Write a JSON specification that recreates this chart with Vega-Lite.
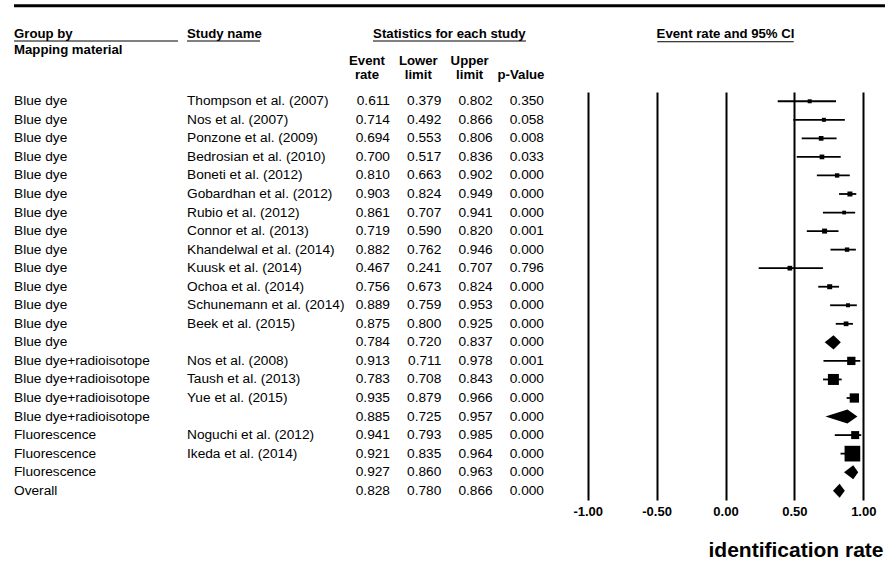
{
  "$schema": "https://vega.github.io/schema/vega-lite/v6.json",
  "width": 885,
  "height": 408,
  "autosize": {"type": "none"},
  "padding": {"left": 0, "top": 92, "right": 0, "bottom": 62},
  "background": "white",
  "config": {
    "view": {"stroke": null},
    "text": {"font": "Liberation Sans", "fontSize": 13.7, "color": "black", "baseline": "middle"},
    "rule": {"color": "black"},
    "locale": {"number": {"decimal": ".", "thousands": ",", "grouping": [3], "currency": ["$", ""], "minus": "-"}}
  },
  "datasets": {
    "rows": [
      {"row": 1, "group": "Blue dye", "study": "Thompson et al. (2007)", "rate": 0.611, "lower": 0.379, "upper": 0.802, "p": 0.350, "weight": 16, "kind": "study"},
      {"row": 2, "group": "Blue dye", "study": "Nos et al. (2007)", "rate": 0.714, "lower": 0.492, "upper": 0.866, "p": 0.058, "weight": 16, "kind": "study"},
      {"row": 3, "group": "Blue dye", "study": "Ponzone et al. (2009)", "rate": 0.694, "lower": 0.553, "upper": 0.806, "p": 0.008, "weight": 22, "kind": "study"},
      {"row": 4, "group": "Blue dye", "study": "Bedrosian et al. (2010)", "rate": 0.700, "lower": 0.517, "upper": 0.836, "p": 0.033, "weight": 22, "kind": "study"},
      {"row": 5, "group": "Blue dye", "study": "Boneti et al. (2012)", "rate": 0.810, "lower": 0.663, "upper": 0.902, "p": 0.000, "weight": 19, "kind": "study"},
      {"row": 6, "group": "Blue dye", "study": "Gobardhan et al. (2012)", "rate": 0.903, "lower": 0.824, "upper": 0.949, "p": 0.000, "weight": 25, "kind": "study"},
      {"row": 7, "group": "Blue dye", "study": "Rubio et al. (2012)", "rate": 0.861, "lower": 0.707, "upper": 0.941, "p": 0.000, "weight": 14, "kind": "study"},
      {"row": 8, "group": "Blue dye", "study": "Connor et al. (2013)", "rate": 0.719, "lower": 0.590, "upper": 0.820, "p": 0.001, "weight": 25, "kind": "study"},
      {"row": 9, "group": "Blue dye", "study": "Khandelwal et al. (2014)", "rate": 0.882, "lower": 0.762, "upper": 0.946, "p": 0.000, "weight": 19, "kind": "study"},
      {"row": 10, "group": "Blue dye", "study": "Kuusk et al. (2014)", "rate": 0.467, "lower": 0.241, "upper": 0.707, "p": 0.796, "weight": 22, "kind": "study"},
      {"row": 11, "group": "Blue dye", "study": "Ochoa et al. (2014)", "rate": 0.756, "lower": 0.673, "upper": 0.824, "p": 0.000, "weight": 25, "kind": "study"},
      {"row": 12, "group": "Blue dye", "study": "Schunemann et al. (2014)", "rate": 0.889, "lower": 0.759, "upper": 0.953, "p": 0.000, "weight": 16, "kind": "study"},
      {"row": 13, "group": "Blue dye", "study": "Beek et al. (2015)", "rate": 0.875, "lower": 0.800, "upper": 0.925, "p": 0.000, "weight": 22, "kind": "study"},
      {"row": 14, "group": "Blue dye", "study": "", "rate": 0.784, "lower": 0.720, "upper": 0.837, "p": 0.000, "weight": null, "kind": "summary"},
      {"row": 15, "group": "Blue dye+radioisotope", "study": "Nos et al. (2008)", "rate": 0.913, "lower": 0.711, "upper": 0.978, "p": 0.001, "weight": 69, "kind": "study"},
      {"row": 16, "group": "Blue dye+radioisotope", "study": "Taush et al. (2013)", "rate": 0.783, "lower": 0.708, "upper": 0.843, "p": 0.000, "weight": 121, "kind": "study"},
      {"row": 17, "group": "Blue dye+radioisotope", "study": "Yue et al. (2015)", "rate": 0.935, "lower": 0.879, "upper": 0.966, "p": 0.000, "weight": 86, "kind": "study"},
      {"row": 18, "group": "Blue dye+radioisotope", "study": "", "rate": 0.885, "lower": 0.725, "upper": 0.957, "p": 0.000, "weight": null, "kind": "summary"},
      {"row": 19, "group": "Fluorescence", "study": "Noguchi et al. (2012)", "rate": 0.941, "lower": 0.793, "upper": 0.985, "p": 0.000, "weight": 64, "kind": "study"},
      {"row": 20, "group": "Fluorescence", "study": "Ikeda et al. (2014)", "rate": 0.921, "lower": 0.835, "upper": 0.964, "p": 0.000, "weight": 246, "kind": "study"},
      {"row": 21, "group": "Fluorescence", "study": "", "rate": 0.927, "lower": 0.860, "upper": 0.963, "p": 0.000, "weight": null, "kind": "summary"},
      {"row": 22, "group": "Overall", "study": "", "rate": 0.828, "lower": 0.780, "upper": 0.866, "p": 0.000, "weight": null, "kind": "summary"}
    ],
    "headers": [
      {"id": "groupby", "t": "Group by"},
      {"id": "mapping", "t": "Mapping material"},
      {"id": "study", "t": "Study name"},
      {"id": "stats", "t": "Statistics for each study"},
      {"id": "ci", "t": "Event rate and 95% CI"}
    ],
    "colheads": [
      {"col": "rate", "t1": "Event", "t2": "rate"},
      {"col": "lower", "t1": "Lower", "t2": "limit"},
      {"col": "upper", "t1": "Upper", "t2": "limit"},
      {"col": "p", "t1": "", "t2": "p-Value"}
    ]
  },
  "layer": [
    {
      "layer": [
        {
          "data": {"name": "rows"},
          "transform": [{"fold": ["group", "study"], "as": ["col", "v"]}],
          "mark": {"type": "text", "align": "left", "baseline": "middle", "fontSize": 13.7},
          "encoding": {
            "x": {"field": "col", "type": "nominal", "scale": {"type": "point", "domain": ["group", "study"], "range": [14, 187], "padding": 0}, "axis": null},
            "y": {"field": "row", "type": "quantitative", "scale": {"type": "linear", "domain": [0.5, 22.5], "reverse": true, "nice": false, "zero": false}, "axis": null},
            "text": {"field": "v", "type": "nominal"}
          }
        },
        {
          "data": {"name": "headers"},
          "transform": [{"filter": "datum.id == 'groupby'"}],
          "mark": {"type": "rule", "strokeWidth": 3},
          "encoding": {
            "x": {"datum": "group", "type": "nominal", "scale": {"type": "point", "domain": ["group", "study"], "range": [14, 187], "padding": 0}, "axis": null},
            "x2": {"value": "width"},
            "y": {"datum": -4.154, "type": "quantitative", "scale": {"type": "linear", "domain": [0.5, 22.5], "reverse": true, "nice": false, "zero": false}, "axis": null}
          }
        },
        {
          "data": {"name": "headers"},
          "transform": [{"filter": "datum.id == 'groupby'"}],
          "mark": {"type": "text", "align": "left", "baseline": "alphabetic", "fontWeight": "bold", "fontSize": 13.2},
          "encoding": {
            "x": {"datum": "group", "type": "nominal", "scale": {"type": "point", "domain": ["group", "study"], "range": [14, 187], "padding": 0}, "axis": null},
            "y": {"datum": -2.396, "type": "quantitative", "scale": {"type": "linear", "domain": [0.5, 22.5], "reverse": true, "nice": false, "zero": false}, "axis": null},
            "text": {"field": "t", "type": "nominal"}
          }
        },
        {
          "data": {"name": "headers"},
          "transform": [{"filter": "datum.id == 'study'"}],
          "mark": {"type": "text", "align": "left", "baseline": "alphabetic", "fontWeight": "bold", "fontSize": 13.2},
          "encoding": {
            "x": {"datum": "study", "type": "nominal", "scale": {"type": "point", "domain": ["group", "study"], "range": [14, 187], "padding": 0}, "axis": null},
            "y": {"datum": -2.396, "type": "quantitative", "scale": {"type": "linear", "domain": [0.5, 22.5], "reverse": true, "nice": false, "zero": false}, "axis": null},
            "text": {"field": "t", "type": "nominal"}
          }
        },
        {
          "data": {"name": "headers"},
          "transform": [{"filter": "datum.id == 'groupby'"}],
          "mark": {"type": "rule", "strokeWidth": 1, "x2Offset": -9},
          "encoding": {
            "x": {"datum": "group", "type": "nominal", "scale": {"type": "point", "domain": ["group", "study"], "range": [14, 187], "padding": 0}, "axis": null},
            "x2": {"datum": "study"},
            "y": {"datum": -2.25, "type": "quantitative", "scale": {"type": "linear", "domain": [0.5, 22.5], "reverse": true, "nice": false, "zero": false}, "axis": null}
          }
        },
        {
          "data": {"name": "headers"},
          "transform": [{"filter": "datum.id == 'study'"}],
          "mark": {"type": "rule", "strokeWidth": 1, "x2Offset": 73},
          "encoding": {
            "x": {"datum": "study", "type": "nominal", "scale": {"type": "point", "domain": ["group", "study"], "range": [14, 187], "padding": 0}, "axis": null},
            "x2": {"datum": "study"},
            "y": {"datum": -2.25, "type": "quantitative", "scale": {"type": "linear", "domain": [0.5, 22.5], "reverse": true, "nice": false, "zero": false}, "axis": null}
          }
        },
        {
          "data": {"name": "headers"},
          "transform": [{"filter": "datum.id == 'mapping'"}],
          "mark": {"type": "text", "align": "left", "baseline": "alphabetic", "fontWeight": "bold", "fontSize": 13.2},
          "encoding": {
            "x": {"datum": "group", "type": "nominal", "scale": {"type": "point", "domain": ["group", "study"], "range": [14, 187], "padding": 0}, "axis": null},
            "y": {"datum": -1.533, "type": "quantitative", "scale": {"type": "linear", "domain": [0.5, 22.5], "reverse": true, "nice": false, "zero": false}, "axis": null},
            "text": {"field": "t", "type": "nominal"}
          }
        }
      ]
    },
    {
      "layer": [
        {
          "data": {"name": "rows"},
          "transform": [{"fold": ["rate", "lower", "upper", "p"], "as": ["col", "v"]}],
          "mark": {"type": "text", "align": "right", "baseline": "middle", "fontSize": 13.7},
          "encoding": {
            "x": {"field": "col", "type": "nominal", "scale": {"type": "point", "domain": ["rate", "lower", "upper", "p"], "range": [390, 544], "padding": 0}, "axis": null},
            "y": {"field": "row", "type": "quantitative", "scale": {"type": "linear", "domain": [0.5, 22.5], "reverse": true, "nice": false, "zero": false}, "axis": null},
            "text": {"field": "v", "type": "quantitative", "format": ".3f"}
          }
        },
        {
          "data": {"name": "colheads"},
          "mark": {"type": "text", "align": "center", "baseline": "alphabetic", "fontWeight": "bold", "fontSize": 13.2, "dx": -23},
          "encoding": {
            "x": {"field": "col", "type": "nominal", "scale": {"type": "point", "domain": ["rate", "lower", "upper", "p"], "range": [390, 544], "padding": 0}, "axis": null},
            "y": {"datum": -0.956, "type": "quantitative", "scale": {"type": "linear", "domain": [0.5, 22.5], "reverse": true, "nice": false, "zero": false}, "axis": null},
            "text": {"field": "t1", "type": "nominal"}
          }
        },
        {
          "data": {"name": "colheads"},
          "mark": {"type": "text", "align": "center", "baseline": "alphabetic", "fontWeight": "bold", "fontSize": 13.2, "dx": -23},
          "encoding": {
            "x": {"field": "col", "type": "nominal", "scale": {"type": "point", "domain": ["rate", "lower", "upper", "p"], "range": [390, 544], "padding": 0}, "axis": null},
            "y": {"datum": -0.201, "type": "quantitative", "scale": {"type": "linear", "domain": [0.5, 22.5], "reverse": true, "nice": false, "zero": false}, "axis": null},
            "text": {"field": "t2", "type": "nominal"}
          }
        },
        {
          "data": {"name": "headers"},
          "transform": [{"filter": "datum.id == 'stats'"}],
          "mark": {"type": "text", "align": "center", "baseline": "alphabetic", "fontWeight": "bold", "fontSize": 13.2, "dx": 8},
          "encoding": {
            "x": {"datum": "lower", "type": "nominal", "scale": {"type": "point", "domain": ["rate", "lower", "upper", "p"], "range": [390, 544], "padding": 0}, "axis": null},
            "y": {"datum": -2.396, "type": "quantitative", "scale": {"type": "linear", "domain": [0.5, 22.5], "reverse": true, "nice": false, "zero": false}, "axis": null},
            "text": {"field": "t", "type": "nominal"}
          }
        },
        {
          "data": {"name": "headers"},
          "transform": [{"filter": "datum.id == 'stats'"}],
          "mark": {"type": "rule", "strokeWidth": 1, "xOffset": -17, "x2Offset": -18},
          "encoding": {
            "x": {"datum": "rate", "type": "nominal", "scale": {"type": "point", "domain": ["rate", "lower", "upper", "p"], "range": [390, 544], "padding": 0}, "axis": null},
            "x2": {"datum": "p"},
            "y": {"datum": -2.25, "type": "quantitative", "scale": {"type": "linear", "domain": [0.5, 22.5], "reverse": true, "nice": false, "zero": false}, "axis": null}
          }
        }
      ]
    },
    {
      "layer": [
        {
          "data": {"name": "rows"},
          "transform": [{"filter": "datum.kind == 'study'"}],
          "mark": {"type": "rule", "strokeWidth": 1.8},
          "encoding": {
            "x": {"field": "lower", "type": "quantitative", "scale": {"type": "linear", "domain": [-1, 1], "range": [587.7, 863.3], "nice": false, "zero": false},
              "axis": {"orient": "bottom", "values": [-1, -0.5, 0, 0.5, 1], "format": ".2f", "grid": true, "gridColor": "black", "gridWidth": 2, "gridOpacity": 1, "domain": false, "ticks": false, "tickSize": 0, "labelFont": "Liberation Sans", "labelFontSize": 13, "labelFontWeight": "bold", "labelColor": "black", "labelPadding": 5, "labelFlush": false, "labelOverlap": false, "title": "identification rate", "titleFont": "Liberation Sans", "titleFontSize": 21, "titleFontWeight": "bold", "titleColor": "black", "titleAnchor": "end", "titleAlign": "right", "titleBaseline": "alphabetic", "titleX": 883, "titleY": 56}},
            "x2": {"field": "upper"},
            "y": {"field": "row", "type": "quantitative", "scale": {"type": "linear", "domain": [0.5, 22.5], "reverse": true, "nice": false, "zero": false}, "axis": null}
          }
        },
        {
          "data": {"name": "rows"},
          "transform": [{"filter": "datum.kind == 'study'"}],
          "mark": {"type": "point", "shape": "square", "filled": true, "color": "black", "opacity": 1, "strokeWidth": 0},
          "encoding": {
            "x": {"field": "rate", "type": "quantitative"},
            "y": {"field": "row", "type": "quantitative", "scale": {"type": "linear", "domain": [0.5, 22.5], "reverse": true, "nice": false, "zero": false}, "axis": null},
            "size": {"field": "weight", "type": "quantitative", "scale": {"type": "linear", "domain": [0, 250], "range": [0, 250]}, "legend": null}
          }
        },
        {
          "data": {"name": "rows"},
          "transform": [
            {"filter": "datum.kind == 'summary'"},
            {"fold": ["lower", "rate", "upper"], "as": ["k", "v"]},
            {"calculate": "datum.row - (datum.k == 'rate' ? 0.38 : 0)", "as": "ya"},
            {"calculate": "datum.row + (datum.k == 'rate' ? 0.38 : 0)", "as": "yb"}
          ],
          "mark": {"type": "area", "orient": "vertical", "color": "black", "opacity": 1},
          "encoding": {
            "x": {"field": "v", "type": "quantitative"},
            "y": {"field": "ya", "type": "quantitative", "scale": {"type": "linear", "domain": [0.5, 22.5], "reverse": true, "nice": false, "zero": false}, "axis": null},
            "y2": {"field": "yb"},
            "detail": {"field": "row", "type": "nominal"}
          }
        },
        {
          "data": {"name": "headers"},
          "transform": [{"filter": "datum.id == 'ci'"}],
          "mark": {"type": "text", "align": "center", "baseline": "alphabetic", "fontWeight": "bold", "fontSize": 13.2},
          "encoding": {
            "x": {"datum": 0, "type": "quantitative"},
            "y": {"datum": -2.385, "type": "quantitative", "scale": {"type": "linear", "domain": [0.5, 22.5], "reverse": true, "nice": false, "zero": false}, "axis": null},
            "text": {"field": "t", "type": "nominal"}
          }
        },
        {
          "data": {"name": "headers"},
          "transform": [{"filter": "datum.id == 'ci'"}],
          "mark": {"type": "rule", "strokeWidth": 1},
          "encoding": {
            "x": {"datum": -0.495, "type": "quantitative"},
            "x2": {"datum": 0.495},
            "y": {"datum": -2.21, "type": "quantitative", "scale": {"type": "linear", "domain": [0.5, 22.5], "reverse": true, "nice": false, "zero": false}, "axis": null}
          }
        }
      ]
    }
  ],
  "resolve": {"scale": {"x": "independent"}, "axis": {"x": "independent"}}
}
